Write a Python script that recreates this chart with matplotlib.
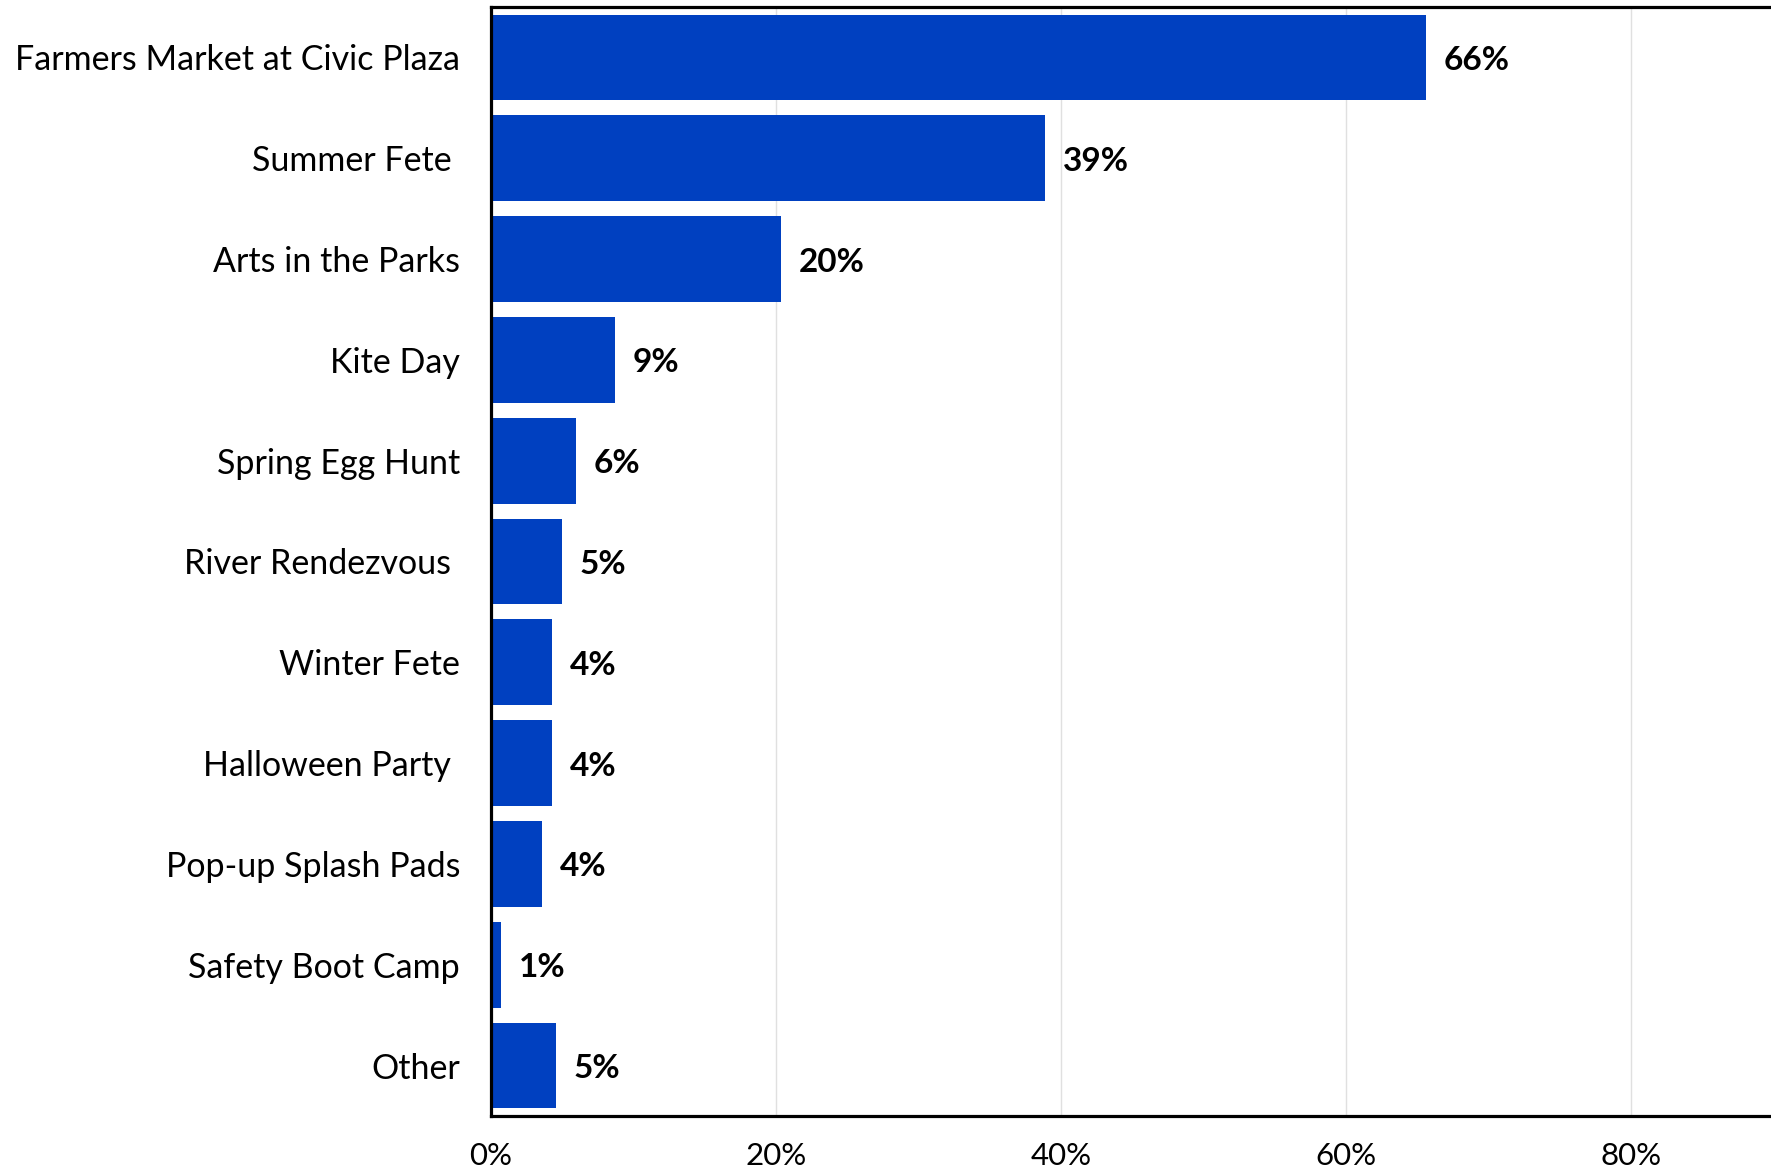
import numpy as np
import matplotlib
matplotlib.use('Agg')
import matplotlib.pyplot as plt
from matplotlib.ticker import FuncFormatter

plt.rcParams['font.family'] = ['Lato', 'DejaVu Sans']

# data
events = ['Farmers Market at Civic Plaza', 'Summer Fete ', 'Arts in the Parks', 'Kite Day',
          'Spring Egg Hunt', 'River Rendezvous ', 'Winter Fete', 'Halloween Party ',
          'Pop-up Splash Pads', 'Safety Boot Camp', 'Other']
share = [0.656, 0.389, 0.204, 0.087, 0.060, 0.050, 0.043, 0.043, 0.036, 0.007, 0.046]
labels = ['66%', '39%', '20%', '9%', '6%', '5%', '4%', '4%', '4%', '1%', '5%']
xticks = [0, 0.2, 0.4, 0.6, 0.8]

fig = plt.figure(figsize=(17.71, 11.71), dpi=100)
ax = fig.add_axes([0.277, 0.047, 0.7245, 0.947])

y = np.arange(len(events))
ax.barh(y, share, height=0.85, color='#0040c0', zorder=2)
for yi, v, lab in zip(y, share, labels):
    ax.text(v + 0.0125, yi + 0.03, lab, va='center', ha='left', fontsize=24, fontweight='bold', color='black')

ax.set_yticks(y)
ax.set_yticklabels(events, fontsize=24.5)
ax.set_ylim(len(events) - 0.5, -0.5)
ax.set_xlim(0, 0.9)
ax.set_xticks(xticks)
ax.xaxis.set_major_formatter(FuncFormatter(lambda v, p: '%d%%' % round(v * 100)))
ax.tick_params(axis='x', labelsize=22.5, length=0, pad=19)
ax.tick_params(axis='y', length=0, pad=22)
ax.grid(axis='x', color='#e0e0e0', lw=1, zorder=0)
ax.set_axisbelow(True)

for s in ['left', 'top', 'bottom']:
    ax.spines[s].set_linewidth(2.3)
ax.spines['right'].set_visible(False)

fig.savefig('out.png', dpi=100)
